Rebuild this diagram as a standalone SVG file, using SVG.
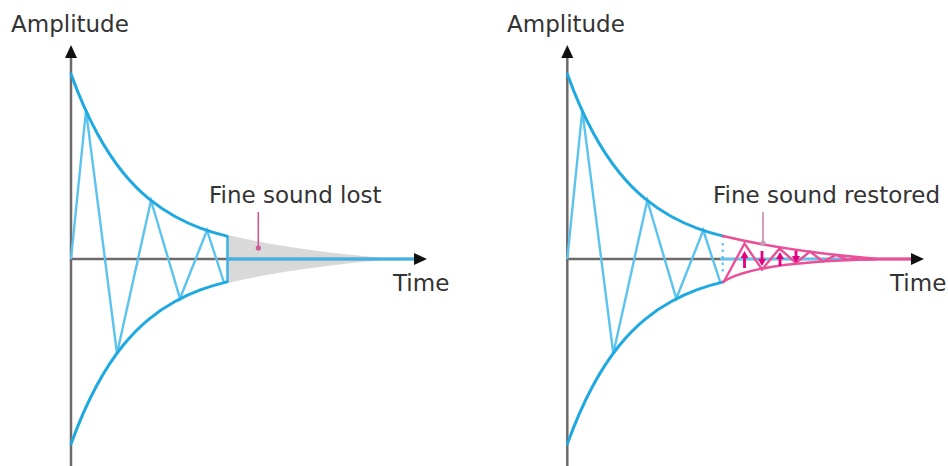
<svg xmlns="http://www.w3.org/2000/svg" xmlns:xlink="http://www.w3.org/1999/xlink" width="948" height="466" viewBox="0 0 948 466">
<style>
  .txt { font-family: "DejaVu Sans", Verdana, sans-serif; font-size: 23px; fill: #333; }
  .axis { stroke: #6f6a69; stroke-width: 2.5; fill: none; }
  .head { fill: #111; }
  .env { stroke: #1fa9e1; stroke-width: 3; fill: none; stroke-linecap: round; }
  .zig { stroke: #5bc3ee; stroke-width: 2.4; fill: none; stroke-linejoin: miter; }
  .pinkenv { stroke: #ea4f98; stroke-width: 2.6; fill: none; stroke-linecap: round; }
  .pinkzig { stroke: #ea4f98; stroke-width: 2.4; fill: none; }
  .marrow { stroke: #e4007f; stroke-width: 2.8; fill: none; }
</style>
<defs>
  <path id="envUpper" d="M71,74 C79.67,97.91 88.33,117.02 97,133 C105.67,148.98 114.33,161.82 123,172.5 C131.67,183.18 140.33,191.77 149,198.9 C157.67,206.03 166.33,211.73 175,216.5 C183.67,221.27 192.33,225.11 201,228.3 C209.67,231.49 218.33,233.97 227,236.1"/>
  <path id="zigzag" d="M71,259 L86,110.5 L117,353.5 L151,200.5 L180,298.5 L207,230.4 L224,282.5"/>
  <marker id="mh" markerWidth="8" markerHeight="8" refX="1" refY="4" orient="auto" markerUnits="userSpaceOnUse">
    <path d="M0,0 L7,4 L0,8 Z" fill="#e4007f"/>
  </marker>
</defs>

<g id="left-panel">
  <g id="left-shading">
    <path d="M228,235 Q290,250 395,259 Q290,268 228,283 Z" fill="#d9d9d9"/>
  </g>
  <g id="left-axes">
    <line class="axis" x1="71" y1="466" x2="71" y2="56"/>
    <polygon class="head" points="71,45 65,58 77,58"/>
    <line class="axis" x1="71" y1="259" x2="416" y2="259"/>
    <line x1="228" y1="259" x2="414" y2="259" stroke="#3cb2e6" stroke-width="3"/>
    <polygon class="head" points="427,259 414,253 414,265"/>
  </g>
  <g id="left-wave">
    <use xlink:href="#zigzag" class="zig"/>
    <line x1="227.5" y1="236" x2="227.5" y2="282" stroke="#3cb2e6" stroke-width="2.5"/>
    <use xlink:href="#envUpper" class="env"/>
    <use xlink:href="#envUpper" class="env" transform="matrix(1 0 0 -1 0 518)"/>
  </g>
  <g id="left-pointer">
    <line x1="258.3" y1="212" x2="258.3" y2="247" stroke="#cf5a93" stroke-width="1.6"/>
    <circle cx="258.3" cy="248" r="2.6" fill="#cf5a93"/>
  </g>
  <g id="left-labels">
    <text class="txt" x="11" y="32">Amplitude</text>
    <text class="txt" x="209" y="203">Fine sound lost</text>
    <text class="txt" x="393" y="291">Time</text>
  </g>
</g>

<g id="right-panel">
  <g id="right-axes">
    <line class="axis" x1="567.3" y1="466" x2="567.3" y2="56"/>
    <polygon class="head" points="567.3,45 561.3,58 573.3,58"/>
    <line class="axis" x1="567.3" y1="259" x2="912" y2="259"/>
    <line x1="720" y1="259" x2="868" y2="259" stroke="#62c3ee" stroke-width="2.5"/>
  </g>
  <g id="right-wave" transform="translate(496.3,0)">
    <use xlink:href="#zigzag" class="zig"/>
    <use xlink:href="#envUpper" class="env"/>
    <use xlink:href="#envUpper" class="env" transform="matrix(1 0 0 -1 0 518)"/>
  </g>
  <g id="right-dotted">
    <line x1="722.7" y1="243" x2="722.7" y2="273" stroke="#5bc3ee" stroke-width="2.2" stroke-dasharray="2.5 4"/>
  </g>
  <g id="right-restored">
    <path class="pinkzig" d="M724,281.5 L744.5,243.5 L762,269.5 L779.5,248.5 L796,263 L810,251.5 L823,261.5 L836,255 L848,260 L858,257.5"/>
    <path class="pinkenv" d="M723,236 Q785,251 875,258.7"/>
    <path class="pinkenv" d="M723,282 Q752,262 875,259.3"/>
    <line x1="862" y1="259" x2="912" y2="259" stroke="#ea4f98" stroke-width="3"/>
    <polygon class="head" points="924,259 911,253 911,265"/>
  </g>
  <g id="right-arrows">
    <line class="marrow" x1="744.5" y1="268" x2="744.5" y2="257" marker-end="url(#mh)"/>
    <line class="marrow" x1="762" y1="251" x2="762" y2="260" marker-end="url(#mh)"/>
    <line class="marrow" x1="780" y1="266" x2="780" y2="258" marker-end="url(#mh)"/>
    <line class="marrow" x1="796" y1="251" x2="796" y2="257" marker-end="url(#mh)"/>
  </g>
  <g id="right-pointer">
    <line x1="763" y1="212" x2="763" y2="242" stroke="#c48aa8" stroke-width="1.6"/>
    <circle cx="763" cy="243" r="2.6" fill="#c69db4"/>
  </g>
  <g id="right-labels">
    <text class="txt" x="507" y="32">Amplitude</text>
    <text class="txt" x="713" y="203">Fine sound restored</text>
    <text class="txt" x="890" y="291">Time</text>
  </g>
</g>
</svg>
